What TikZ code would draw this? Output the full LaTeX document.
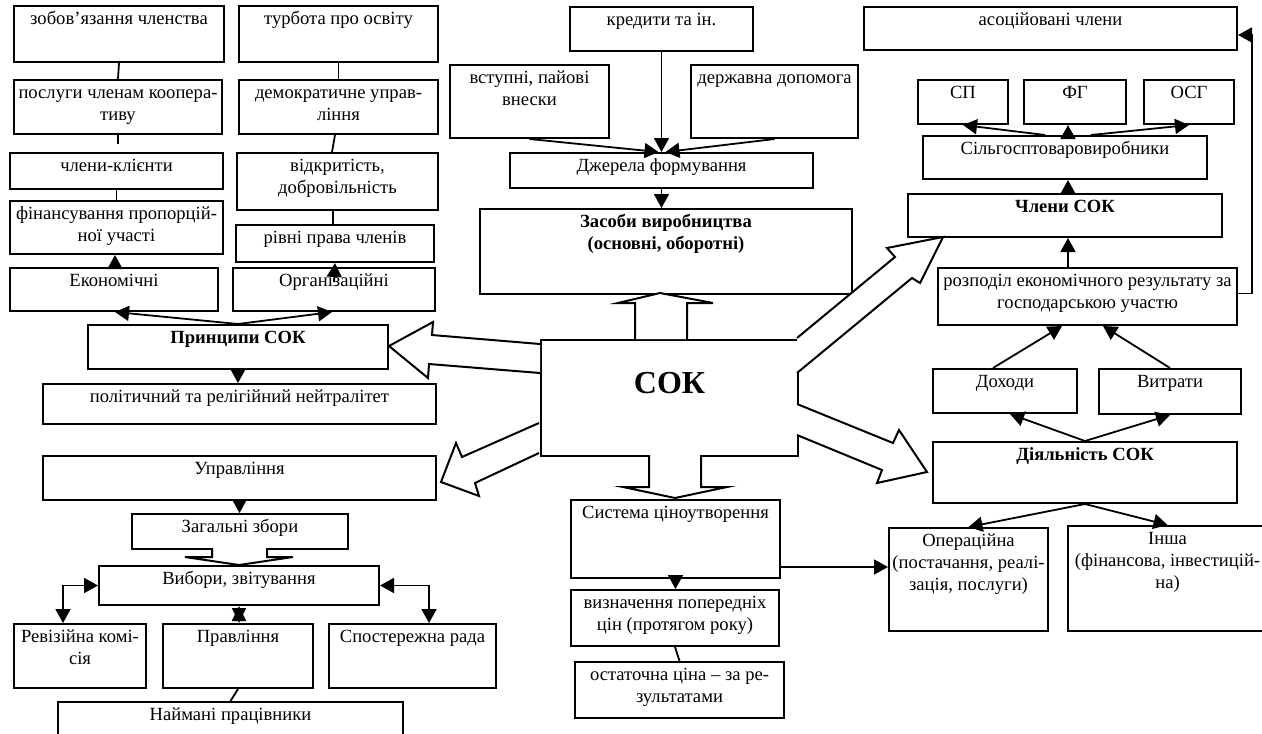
\documentclass[tikz,border=0pt]{standalone}
\usepackage{fontspec}
\setmainfont{Liberation Serif}
\usetikzlibrary{arrows.meta,calc}
\tikzset{
 box/.style={draw,line width=2pt,inner sep=0pt,fill=white},
 txt/.style={inner sep=0pt,align=center,font=\fontsize{18.6}{22}\selectfont},
 bold/.style={font=\fontsize{18.6}{22}\selectfont\bfseries},
 arr/.style={line width=1.8pt,-{Triangle[length=14pt,width=15pt]}},
 darr/.style={line width=1.8pt,{Triangle[length=14pt,width=15pt]}-{Triangle[length=14pt,width=15pt]}},
 tiedarr/.style={line width=1.8pt,{Triangle[length=15pt,width=14pt]}-{Triangle[length=15pt,width=14pt]}},
 ln/.style={line width=1.8pt},
 blk/.style={draw,line width=2pt,fill=white,line join=miter},
}
\newcommand\bx[7]{%
  \node[box,minimum width={(#4-#2)*1pt},minimum height={(#5-#3)*1pt},anchor=north west] (#1) at (#2,#3) {};
  \node[txt,#6,anchor=north] (#1-t) at ([yshift=-4pt]#1.north) {\strut #7};
}
\begin{document}
\begin{tikzpicture}[x=1pt,y=-1pt]
\useasboundingbox (0,0) rectangle (1262,734);
\clip (0,0) rectangle (1262,734);
% guide columns
\foreach \g in {115,332,333,335,993,1010,1062,1068,1103}{\coordinate (g\g) at (\g,0);}
% left column
\bx{zob}{13}{5}{223}{61}{}{зобов’язання членства}
\bx{posl}{13}{79}{221}{133}{}{послуги членам коопера-\\тиву}
\bx{chl}{9}{152}{222}{188}{}{члени-клієнти}
\bx{fin}{9}{200}{222}{253}{}{фінансування пропорцій-\\ної участі}
\bx{econ}{9}{267}{217}{310}{}{Економічні}
\bx{turb}{238}{5}{437}{61}{}{турбота про освіту}
\bx{dem}{238}{79}{437}{133}{}{демократичне управ-\\ління}
\bx{vidk}{236}{152}{437}{209}{}{відкритість,\\добровільність}
\bx{rivni}{235}{224}{433}{261}{}{рівні права членів}
\bx{org}{232}{267}{434}{310}{}{Організаційні}
\bx{prin}{87}{324}{387}{368}{bold}{Принципи СОК}
\bx{pol}{42}{383}{435}{423}{}{політичний та релігійний нейтралітет}
\bx{upr}{42}{455}{435}{499}{}{Управління}
\bx{zag}{131}{513}{347}{548}{}{Загальні збори}
\bx{vyb}{98}{565}{378}{604}{}{Вибори, звітування}
\bx{rev}{13}{623}{145}{687}{}{Ревізійна комі-\\сія}
\bx{prav}{162}{623}{312}{687}{}{Правління}
\bx{spost}{328}{623}{495}{687}{}{Спостережна рада}
\bx{naim}{57}{701}{402}{750}{}{Наймані працівники}
% centre column
\bx{kred}{569}{6}{752}{50}{}{кредити та ін.}
\bx{vst}{449}{64}{608}{137}{}{вступні, пайові\\внески}
\bx{derzh}{690}{64}{857}{137}{}{державна допомога}
\bx{dzh}{509}{152}{812}{187}{}{Джерела формування}
\bx{zas}{479}{208}{851}{293}{bold}{Засоби виробництва\\(основні, оборотні)}
\node[box,minimum width=257pt,minimum height=116pt,anchor=north west] (sok) at (540,339) {};
\node[inner sep=0pt,anchor=base,font=\fontsize{32}{36}\selectfont\bfseries] (sok-t) at ([yshift=-54pt]sok.north) {СОК};
\bx{syst}{570}{499}{779}{577}{}{Система ціноутворення}
\bx{vyzn}{570}{589}{778}{645}{}{визначення попередніх\\цін (протягом року)}
\bx{ost}{574}{661}{783}{717}{}{остаточна ціна – за ре-\\зультатами}
% right column
\bx{asoc}{863}{6}{1236}{49}{}{асоційовані члени}
\bx{sp}{917}{79}{1007}{123}{}{СП}
\bx{fg}{1023}{79}{1125}{123}{}{ФГ}
\bx{osg}{1143}{79}{1233}{123}{}{ОСГ}
\bx{sil}{922}{135}{1206}{178}{}{Сільгосптоваровиробники}
\bx{chlsok}{907}{193}{1221}{236}{bold}{Члени СОК}
\bx{roz}{937}{267}{1236}{324}{}{розподіл економічного результату за\\господарською участю}
\bx{dokh}{932}{368}{1076}{412}{}{Доходи}
\bx{vytr}{1098}{368}{1240}{413}{}{Витрати}
\bx{diyal}{932}{441}{1236}{502}{bold}{Діяльність СОК}
\bx{oper}{888}{527}{1047}{630}{}{Операційна\\(постачання, реалі-\\зація, послуги)}
\bx{insha}{1067}{525}{1266}{630}{}{Інша\\(фінансова, інвестицій-\\на)}
% plain connectors, left
\draw[ln] (zob.south) -- (posl.north);
\coordinate (poslstub) at ([yshift=-9pt]posl.south);
\draw[ln] (posl.south) -- (poslstub);
\draw[ln] (chl.south) -- (fin.north);
\draw[arr] (econ.north -| g115) -- (fin.south -| g115);
\draw[ln] (turb.south) -- (dem.north);
\draw[ln] (dem.south -| g335) -- (vidk.north -| g332);
\draw[ln] (vidk.south -| g333) -- (rivni.north -| g333);
\draw[arr] ([yshift=-15pt]org.north) -- (rivni.south);
\draw[arr] (prin.north) -- (econ.south -| g115);
\draw[arr] (prin.north) -- (org.south -| g332);
\draw[arr] (prin.south) -- (prin.south |- pol.north);
\draw[arr] (upr.south) -- (upr.south |- zag.north);
\draw[darr] (vyb.west) -| ([xshift=-17pt]rev.north);
\draw[darr] (vyb.east) -| ([xshift=16.5pt]spost.north);
\draw[tiedarr] (vyb.south) -- (vyb.south |- prav.north);
\draw[ln] (prav.south) -- (naim.north);
% Zagalni zbory block arrow
\fill[white] (213.2,545) -- (213.2,556) -- (265.8,556) -- (265.8,545) -- cycle;
\draw[blk,fill=none] (212,548) -- (212,557) -- (185,557) -- (239,565) -- (293,557) -- (267,557) -- (267,548);
% centre connectors
\draw[arr] (kred.south) -- (kred.south |- dzh.north);
\draw[arr] (vst.south) -- ([xshift=-3pt]dzh.north);
\draw[arr] (derzh.south) -- ([xshift=4pt]dzh.north);
\draw[arr] (dzh.south) -- (dzh.south |- zas.north);
\coordinate (s1) at ([yshift=12pt]syst.south east);
\draw[arr] (s1) -- (s1 -| oper.west);
\draw[arr] (syst.south) -- (syst.south |- vyzn.north);
\draw[ln] (vyzn.south) -- (ost.north);
% right connectors
\draw[arr] ([yshift=3pt]roz.east) -- ++(14,0) |- ([yshift=-6.5pt]asoc.east);
\draw[arr] ([xshift=-20pt]sil.north) -- (sp.south);
\draw[arr] (sil.north -| g1068) -- (fg.south -| g1068);
\draw[arr] ([xshift=26pt]sil.north) -- (osg.south);
\draw[arr] (chlsok.north -| g1068) -- (sil.south -| g1068);
\draw[arr] (roz.north -| g1068) -- (chlsok.south -| g1068);
\draw[arr] (dokh.north -| g993) -- (roz.south -| g1062);
\draw[arr] (vytr.north) -- (roz.south -| g1103);
\draw[arr] (diyal.north) -- (dokh.south -| g1010);
\draw[arr] (diyal.north) -- (vytr.south);
\draw[arr] (diyal.south) -- (oper.north);
\draw[arr] (diyal.south) -- (insha.north);
% hollow block arrows from SOK
\draw[blk] (635,339) -- (635,303) -- (618,303) -- (660,293) -- (713,303) -- (687,303) -- (687,339);
\draw[blk] (649,455) -- (649,487) -- (623,487) -- (675,498) -- (727,487) -- (701,487) -- (701,455);
\draw[blk] (540,344) -- (432,335) -- (433,322) -- (389,346) -- (428,378) -- (429,364) -- (540,373);
\draw[blk] (539,423) -- (462,457) -- (456,443) -- (441,482) -- (479,496) -- (475,483) -- (539,453);
\draw[blk] (797,338) -- (895,257) -- (887,248) -- (943,237) -- (920,283) -- (912,278) -- (797,373);
\draw[blk] (797,404) -- (893,443) -- (899,430) -- (927,472) -- (877,483) -- (882,470) -- (797,435);
\end{tikzpicture}
\end{document}
